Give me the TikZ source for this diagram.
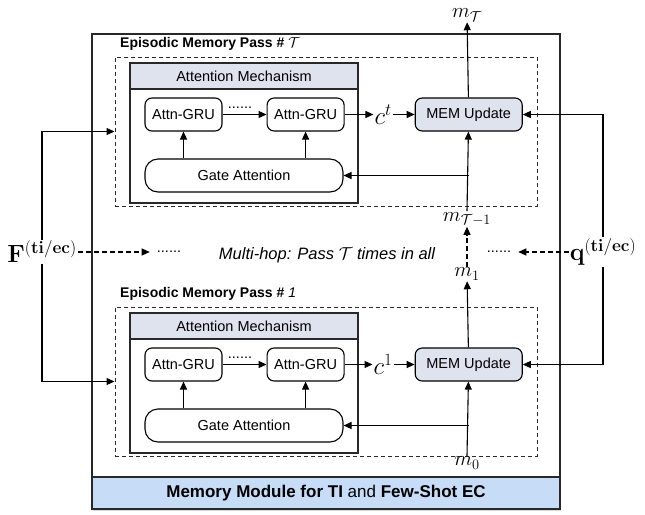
\documentclass[tikz,border=0pt]{standalone}
\usepackage[no-math]{fontspec}
\setmainfont{Liberation Sans}
\usepackage{amsmath,amssymb}
\usetikzlibrary{arrows.meta,positioning,calc,shadows}
\definecolor{memgray}{RGB}{222,227,238}
\definecolor{moduleblue}{RGB}{199,220,247}
\definecolor{framegray}{RGB}{40,40,40}

\begin{document}
\begin{tikzpicture}[
    x=1pt, y=-1pt,
    font=\fontsize{14.5}{17}\selectfont,
    module/.style={rectangle, draw=framegray, line width=1.3pt, fill=white, minimum width=468pt, minimum height=475pt, drop shadow={opacity=0.3, shadow xshift=1pt, shadow yshift=-2pt}},
    band/.style={rectangle, draw=framegray, line width=1.3pt, fill=moduleblue, minimum width=468pt, minimum height=32pt, font=\fontsize{17}{20}\selectfont},
    pass/.style={rectangle, draw=framegray, dash pattern=on 4pt off 3pt, line width=1pt, minimum width=422pt, minimum height=149pt},
    passtitle/.style={anchor=west, inner sep=0pt, font=\fontsize{14}{16}\selectfont\bfseries},
    attbox/.style={rectangle, draw=framegray, line width=1.1pt, minimum width=228pt, minimum height=140pt},
    atthead/.style={rectangle, draw=framegray, line width=1.1pt, fill=memgray, minimum width=228pt, minimum height=26pt, inner sep=0pt},
    gru/.style={rectangle, rounded corners=7pt, draw=black, line width=1.1pt, minimum width=77pt, minimum height=33pt, inner sep=0pt},
    gate/.style={rectangle, rounded corners=13pt, draw=black, line width=1.1pt, minimum width=198pt, minimum height=33pt, inner sep=0pt},
    mem/.style={gru, fill=memgray, minimum width=107pt},
    mvec/.style={inner sep=1pt, font=\fontsize{20}{23}\selectfont},
    cvec/.style={inner sep=1pt, font=\fontsize{25}{28}\selectfont},
    bigvec/.style={inner sep=1pt, fill=white, font=\fontsize{23}{26}\selectfont},
    hopdots/.style={inner sep=1pt},
    arrow/.style={-{Triangle[length=8pt,width=7pt]}, line width=1.1pt},
    dasharrow/.style={arrow, dash pattern=on 5pt off 3pt}
]
\useasboundingbox (0,0) rectangle (645,514);

% Memory module
\node[module] (module) at (326,271.5) {};
\node[band] (band) at (326,493) {\textbf{Memory Module for TI} and \textbf{Few-Shot EC}};

% Pass T
\node[passtitle] (titleT) at (120,44) {Episodic Memory Pass \# $\mathcal{T}$};
\node[pass] (passT) at (326,131.5) {};
\node[attbox] (attT) at (244,133) {};
\node[atthead] (headT) at (244,76) {Attention Mechanism};
\node[gru] (gruTa) at (183.5,114.5) {Attn-GRU};
\node[gru, right=44pt of gruTa] (gruTb) {Attn-GRU};
\node[hopdots, anchor=base] (dotsT) at (240,108) {......};
\node[mem, right=70pt of gruTb] (memT) {MEM Update};
\node[cvec] (cT) at ($(gruTb.east)!0.55!(memT.west)$) {$c^t$};
\node[gate] (gateT) at (244,175.5) {Gate Attention};
\node[mvec] (mT) at (467,15) {$m_{\mathcal{T}}$};
\node[mvec] (mTm) at (467,219) {$m_{\mathcal{T}-1}$};

% Pass 1
\node[passtitle] (titleB) at (120,294) {Episodic Memory Pass \# \textmd{\itshape 1}};
\node[pass] (passB) at (326,381.5) {};
\node[attbox] (attB) at (244,383) {};
\node[atthead] (headB) at (244,326) {Attention Mechanism};
\node[gru] (gruBa) at (183.5,364.5) {Attn-GRU};
\node[gru, right=44pt of gruBa] (gruBb) {Attn-GRU};
\node[hopdots, anchor=base] (dotsB) at (240,358) {......};
\node[mem, right=70pt of gruBb] (memB) {MEM Update};
\node[cvec] (cB) at ($(gruBb.east)!0.55!(memB.west)$) {$c^1$};
\node[gate] (gateB) at (244,425.5) {Gate Attention};
\node[mvec] (m1) at (467,274) {$m_1$};
\node[mvec] (m0) at (467,463) {$m_0$};

% Multi-hop
\node[bigvec] (F) at (42,252) {$\mathbf{F}^{(\mathbf{ti/ec})}$};
\node[bigvec] (q) at (603,252) {$\mathbf{q}^{(\mathbf{ti/ec})}$};
\node[hopdots] (dotsL) at (169,252) {......};
\node[hopdots] (dotsR) at (499,252) {......};
\node[font=\fontsize{16.5}{19}\selectfont] (hop) at (327,255) {\itshape Multi-hop: Pass $\mathcal{T}$ times in all};

% Arrows, pass T
\draw[arrow] (gruTa) -- (gruTb);
\draw[arrow] (gruTb) -- (cT.west |- gruTb);
\draw[arrow] (cT.east |- memT) -- (memT);
\draw[arrow] (gateT.north -| gruTa) -- (gruTa);
\draw[arrow] (gateT.north -| gruTb) -- (gruTb);
\draw[arrow] (mTm.north) -- (memT);
\coordinate (forkT) at (memT |- gateT);
\draw[arrow] (forkT) -- (gateT);
\draw[arrow] (memT) -- (mT);

% Arrows, pass 1
\draw[arrow] (gruBa) -- (gruBb);
\draw[arrow] (gruBb) -- (cB.west |- gruBb);
\draw[arrow] (cB.east |- memB) -- (memB);
\draw[arrow] (gateB.north -| gruBa) -- (gruBa);
\draw[arrow] (gateB.north -| gruBb) -- (gruBb);
\draw[arrow] (m0.north) -- (memB);
\coordinate (forkB) at (memB |- gateB);
\draw[arrow] (forkB) -- (gateB);
\draw[arrow] (memB) -- (m1);

% Inputs
\draw[arrow] (F.north) |- (passT.west);
\draw[arrow] (F.south) |- (passB.west);
\draw[arrow] (q.north) |- (memT.east);
\draw[arrow] (q.south) |- (memB.east);
\draw[dasharrow, shorten >=6pt] (F) -- (dotsL);
\draw[dasharrow, shorten >=6pt] (q) -- (dotsR);
\draw[dasharrow] (m1) -- (mTm);

\end{tikzpicture}
\end{document}
